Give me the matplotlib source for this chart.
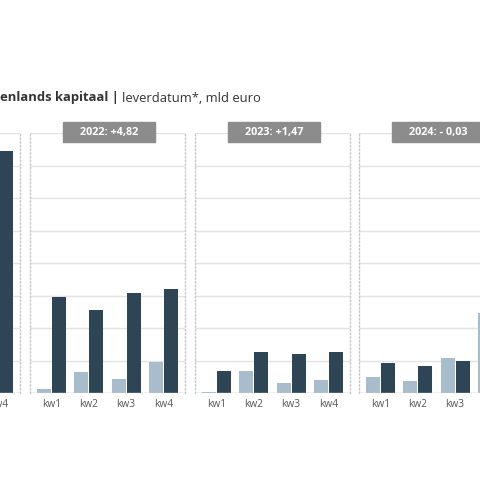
import numpy as np
import matplotlib
matplotlib.use("Agg")
import matplotlib.pyplot as plt
from matplotlib.patches import Rectangle

# data (one grid step = 1 unit)
quarters = ["kw1", "kw2", "kw3", "kw4"]
years = ["2021", "2022", "2023", "2024"]
headers = ["", "2022: +4,82", "2023: +1,47", "2024: - 0,03"]
light_vals = {
    "2021": [np.nan, np.nan, np.nan, np.nan],
    "2022": [0.12, 0.65, 0.43, 0.97],
    "2023": [0.05, 0.69, 0.31, 0.41],
    "2024": [0.51, 0.38, 1.08, 2.46],
}
dark_vals = {
    "2021": [np.nan, np.nan, np.nan, 7.46],
    "2022": [2.95, 2.56, 3.08, 3.20],
    "2023": [0.69, 1.26, 1.22, 1.26],
    "2024": [0.92, 0.84, 0.99, np.nan],
}
# which quarter labels fall inside the picture for each panel
shown = {"2021": [3], "2022": [0, 1, 2, 3], "2023": [0, 1, 2, 3], "2024": [0, 1, 2]}

LIGHT = "#a9bccb"
DARK = "#2e4555"
GRID = "#e3e3e3"
BORDER = "#c9c9c9"
HEAD = "#8c8c8c"

W = H = 480
fig = plt.figure(figsize=(4.8, 4.8), dpi=100)
fig.patch.set_facecolor("white")

def px(x0, y0, w, h):
    # pixel box (top-left origin) -> figure fraction
    return [x0 / W, (H - y0 - h) / H, w / W, h / H]

panel_left = [-135, 30, 195, 359]
panel_w = 155
top_y = 133.3
base_y = 393.3
x = np.arange(4)
bw = 0.375

for i, yr in enumerate(years):
    ax = fig.add_axes(px(panel_left[i], top_y, panel_w, base_y - top_y))
    ax.set_xlim(-0.578, 3.578)
    ax.set_ylim(0, 8)
    ax.set_yticks(range(0, 9))
    ax.yaxis.grid(True, color=GRID, lw=1)
    ax.set_axisbelow(True)
    ax.bar(x - 0.2, light_vals[yr], width=bw, color=LIGHT)
    ax.bar(x + 0.2, dark_vals[yr], width=bw, color=DARK)
    ax.axhline(0, color="#d0d0d0", lw=1)
    idx = shown[yr]
    ax.set_xticks(x[idx])
    ax.set_xticklabels([quarters[k] for k in idx], fontsize=7.3, color="#555555",
                       family="Open Sans")
    ax.tick_params(axis="x", length=0, pad=4)
    ax.tick_params(axis="y", length=0, labelleft=False)
    for s in ["top", "bottom"]:
        ax.spines[s].set_visible(False)
    for s in ["left", "right"]:
        ax.spines[s].set_color(BORDER)
        ax.spines[s].set_linestyle(":")
        ax.spines[s].set_linewidth(1)
    if headers[i]:
        cx = panel_left[i] + panel_w / 2 + 1.5
        fig.patches.append(Rectangle(((cx - 46) / W, (H - 142.3) / H), 92 / W, 20.6 / H,
                                     transform=fig.transFigure, color=HEAD, zorder=5))
        fig.text(cx / W, (H - 132) / H, headers[i], color="white", fontsize=7.8,
                 weight="bold", family="Open Sans", ha="center", va="center", zorder=6)

# title, cut off at the left edge like the reference
t1 = fig.text(0 / W, (H - 98) / H, "enlands kapitaal | ", fontsize=9.4, weight="bold",
              color="#333333", family="Open Sans", va="center")
fig.canvas.draw()
bb = t1.get_window_extent(fig.canvas.get_renderer())
fig.text(bb.x1 / W, (H - 98) / H, "leverdatum*, mld euro", fontsize=9.4,
         color="#333333", family="Open Sans", va="center")

fig.savefig("out.png", dpi=100)
